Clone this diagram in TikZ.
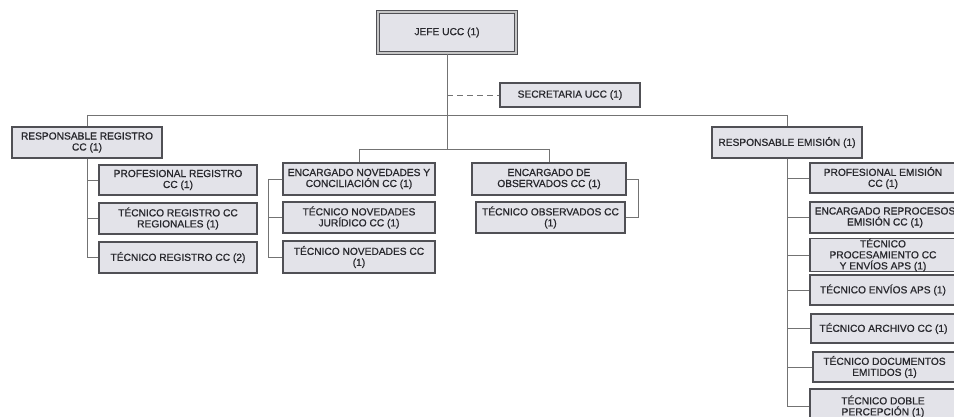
\documentclass[tikz,border=0pt]{standalone}
\usepackage{fontspec}
\setmainfont{Liberation Sans}
\newfontfamily\boxfont{Liberation Sans}[FakeBold=0.9]
\definecolor{boxfill}{RGB}{227,227,233}
\definecolor{boxline}{RGB}{80,80,85}
\definecolor{conline}{RGB}{115,115,115}
\definecolor{txt}{RGB}{40,40,45}
\tikzset{
  box/.style={draw=boxline, fill=boxfill, line width=1.2pt, inner sep=0pt, align=center,
    font=\boxfont\fontsize{10.2}{11}\selectfont, text=txt},
  jefebox/.style={box, line width=1.1pt, double=gray!45, double distance=2.2pt},
  conn/.style={draw=conline, line width=0.7pt},
}
\newcommand{\bx}[6]{% name, x1, y1, x2, y2, text
  \node[box, minimum width={#4-#2}, minimum height={#5-#3}] (#1) at ({(#2+#4)/2},{(#3+#5)/2}) {#6};}
\begin{document}
\begin{tikzpicture}[x=1pt,y=-1pt]
\useasboundingbox (0,0) rectangle (954,417);
\clip (0,0) rectangle (954,417);
\fill[white] (0,0) rectangle (954,417);
% top
\node[jefebox, minimum width=138, minimum height=41] (jefe) at (447,32.5) {JEFE UCC (1)};
\bx{sec}{500}{83}{640}{107}{SECRETARIA UCC (1)}
% left branch
\bx{rr}{12}{127}{162}{158}{RESPONSABLE REGISTRO\\CC (1)}
\bx{pr}{99}{165}{257}{195}{PROFESIONAL REGISTRO\\CC (1)}
\bx{trr}{99}{203}{257}{234}{TÉCNICO REGISTRO CC\\REGIONALES (1)}
\bx{trc}{99}{242}{257}{273}{TÉCNICO REGISTRO CC (2)}
% middle branch
\bx{en}{283}{163}{435}{195}{ENCARGADO NOVEDADES Y\\CONCILIACIÓN CC (1)}
\bx{tnj}{283}{202}{435}{233}{TÉCNICO NOVEDADES\\JURÍDICO CC (1)}
\bx{tnc}{283}{241}{435}{273}{TÉCNICO NOVEDADES CC\\(1)}
\bx{eo}{472}{163}{626}{195}{ENCARGADO DE\\OBSERVADOS CC (1)}
\bx{to}{476}{202}{625}{233}{TÉCNICO OBSERVADOS CC\\(1)}
% right branch
\bx{re}{712}{127}{862}{158}{RESPONSABLE EMISIÓN (1)}
\bx{pe}{810}{163}{956}{193}{PROFESIONAL EMISIÓN\\CC (1)}
\bx{erp}{810}{202}{960}{233}{ENCARGADO REPROCESOS\\EMISIÓN CC (1)}
\bx{tp}{810}{239}{956}{271}{TÉCNICO\\PROCESAMIENTO CC\\Y ENVÍOS APS (1)}
\bx{tea}{810}{275}{956}{305}{TÉCNICO ENVÍOS APS (1)}
\bx{tac}{811}{314}{956}{343}{TÉCNICO ARCHIVO CC (1)}
\bx{tde}{813}{352}{956}{382}{TÉCNICO DOCUMENTOS\\EMITIDOS (1)}
\bx{tdp}{810}{389}{956}{424}{TÉCNICO DOBLE\\PERCEPCIÓN (1)}
% connectors
\coordinate (busL) at (87,115);
\coordinate (busR) at (787,115);
\coordinate (mj) at (447,149);
\coordinate (ml) at (359,149);
\coordinate (mr) at (549,149);
\coordinate (sj) at (447,95);
\coordinate (nb) at (268,0);
\coordinate (ob) at (638,0);
\draw[conn] (busL) -- (busR);
\draw[conn] (busL) -- (rr.north);
\draw[conn] (busR) -- (re.north);
\draw[conn] (jefe.south) -- (mj);
\draw[conn] (ml) -- (mr);
\draw[conn] (ml) -- (en.north);
\draw[conn] (mr) -- (eo.north);
\draw[conn, dashed, dash pattern=on 6pt off 4pt] (sj) -- (sec.west);
\foreach \n in {pr,trr,trc} \draw[conn] (rr.south) |- (\n.west);
\draw[conn] (en.west) -- (en.west -| nb) |- (tnc.west);
\draw[conn] (en.west -| nb) |- (tnj.west);
\draw[conn] (eo.east) -- (eo.east -| ob) |- (to.east);
\foreach \n in {pe,erp,tp,tea,tac,tde,tdp} \draw[conn] (re.south) |- (\n.west);
\end{tikzpicture}
\end{document}
